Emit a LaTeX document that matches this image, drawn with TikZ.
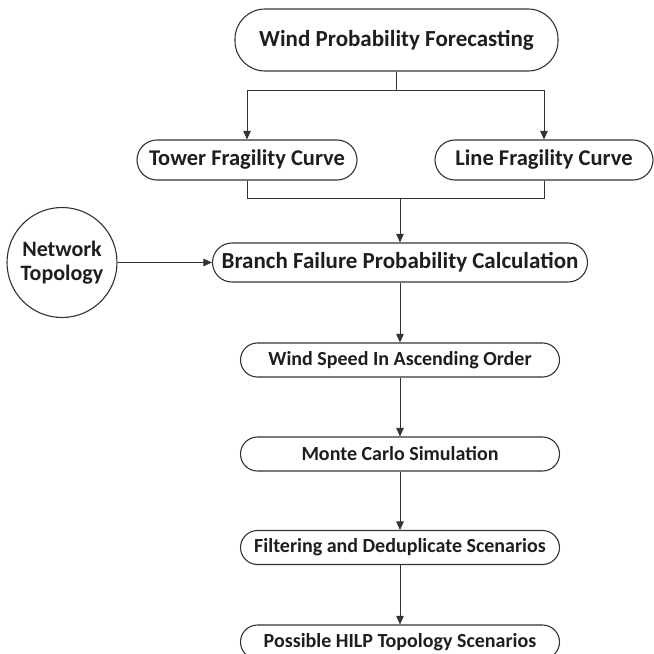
\documentclass[tikz,border=0pt]{standalone}
\usepackage{fontspec}
\setmainfont{Carlito}
\usetikzlibrary{arrows.meta}
\definecolor{ink}{HTML}{1E1E1E}
\definecolor{edge}{HTML}{333333}
\tikzset{
  pill/.style={draw=edge, line width=1.1pt, text=ink, inner sep=0pt,
    font=\bfseries\fontsize{20}{24}\selectfont,
    minimum width=319pt, minimum height=34pt, rounded corners=17pt},
  bigpill/.style={pill, font=\bfseries\fontsize{22.5}{27}\selectfont},
  flow/.style={draw=edge, line width=0.8pt},
  flowarrow/.style={flow, -{Triangle[length=8.5pt,width=7.5pt]}},
}
\begin{document}
\begin{tikzpicture}[x=1pt, y=-1pt]
\useasboundingbox (0,0) rectangle (654,654);

% main pipeline boxes
\node[bigpill, font=\bfseries\fontsize{23}{27}\selectfont,
      minimum width=323pt, minimum height=62pt, rounded corners=30pt]
      (fcst) at (396.5,40) {Wind Probability Forecasting};
\node[bigpill, minimum width=220pt, minimum height=40pt, rounded corners=20pt]
      (tower) at (247,160) {Tower Fragility Curve};
\node[bigpill, minimum width=218pt, minimum height=40pt, rounded corners=20pt]
      (line) at (544,160) {Line Fragility Curve};
\node[bigpill, font=\bfseries\fontsize{23}{27}\selectfont,
      minimum width=375pt, minimum height=39pt, rounded corners=19.5pt]
      (branch) at (400,262.5) {Branch Failure Probability Calculation};
\node[pill] (speed) at (400,360) {Wind Speed In Ascending Order};
\node[pill] (mc) at (400,454) {Monte Carlo Simulation};
\node[pill] (filt) at (400,547.5) {Filtering and Deduplicate Scenarios};
\node[pill] (hilp) at (400,642) {Possible HILP Topology Scenarios};

% network topology input
\node[circle, draw=edge, line width=1.1pt, text=ink, inner sep=0pt,
      minimum size=110pt, align=center,
      font=\bfseries\fontsize{22}{24}\selectfont]
      (net) at (62,262.5) {Network\\Topology};

% connectors
\coordinate (split) at (396.5,90);
\coordinate (join) at (400,198);
\draw[flow] (fcst.south) -- (split);
\draw[flowarrow] (split) -| (tower.north);
\draw[flowarrow] (split) -| (line.north);
\draw[flow] (tower.south) |- (join);
\draw[flow] (line.south) |- (join);
\draw[flowarrow] (join) -- (branch.north);
\draw[flowarrow] (net.east) -- (branch.west);
\draw[flowarrow] (branch.south) -- (speed.north);
\draw[flowarrow] (speed.south) -- (mc.north);
\draw[flowarrow] (mc.south) -- (filt.north);
\draw[flowarrow] (filt.south) -- (hilp.north);
\end{tikzpicture}
\end{document}
